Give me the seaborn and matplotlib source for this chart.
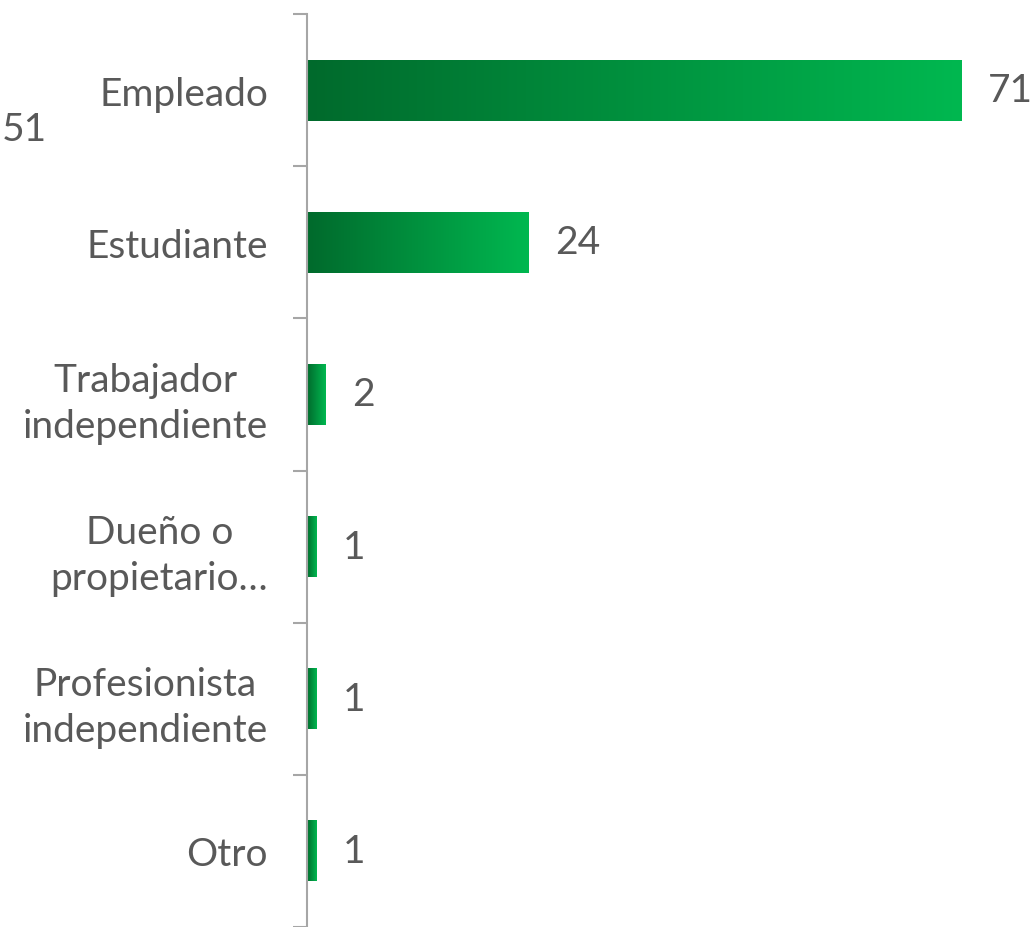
import numpy as np
import pandas as pd
import matplotlib
matplotlib.use("Agg")
import matplotlib.pyplot as plt
import seaborn as sns
from matplotlib.colors import LinearSegmentedColormap

# data
categories = ["Empleado", "Estudiante", "Trabajador\nindependiente",
              "Dueño o\npropietario…", "Profesionista\nindependiente", "Otro"]
values = [71, 24, 2, 1, 1, 1]
stray_label = "51"

df = pd.DataFrame({"categoria": categories, "valor": values})

sns.set_theme(style="white")
plt.rcParams["font.family"] = ["Lato", "DejaVu Sans"]
text_color = "#595959"
axis_color = "#A6A6A6"
fs = 28

fig = plt.figure(figsize=(10.33, 9.28), dpi=100)
ax = fig.add_axes([307 / 1033, 0, 1 - 307 / 1033, 913 / 928])

sns.barplot(data=df, x="valor", y="categoria", orient="h", width=0.4,
            color="#00A846", ax=ax)

# gradient fill for each bar, dark on the left, light on the right
cmap = LinearSegmentedColormap.from_list("verde", ["#006A2C", "#00B850"])
grad = np.linspace(0, 1, 256).reshape(1, -1)
for patch in ax.patches:
    x0, y0 = patch.get_x(), patch.get_y()
    w, h = patch.get_width(), patch.get_height()
    im = ax.imshow(grad, cmap=cmap, aspect="auto", extent=[x0, x0 + w, y0 + h, y0],
                   zorder=patch.get_zorder() + 0.1)
    im.set_clip_path(patch)

ax.set_xlim(0, 78.7)
ax.set_ylim(len(categories) - 0.5, -0.5)

# value labels
for i, v in enumerate(values):
    ax.annotate(str(v), xy=(v, i), xytext=(19, 0), textcoords="offset points",
                ha="left", va="center", fontsize=fs, color=text_color)

# category ticks at boundaries like the original
ax.set_yticks(np.arange(len(categories)))
ax.set_yticklabels(categories, fontsize=fs, color=text_color,
                   multialignment="center", linespacing=1.35)
ax.tick_params(axis="y", which="major", length=0, pad=28)
ax.set_yticks(np.arange(len(categories) + 1) - 0.5, minor=True)
ax.tick_params(axis="y", which="minor", left=True, length=10, width=1.5,
               color=axis_color, direction="out")
ax.set_xticks([])
ax.set_xlabel("")
ax.set_ylabel("")

for side in ["top", "right", "bottom"]:
    ax.spines[side].set_visible(False)
ax.spines["left"].set_color(axis_color)
ax.spines["left"].set_linewidth(1.5)

fig.text(2 / 1033, 1 - 130 / 928, stray_label, fontsize=fs, color=text_color,
         ha="left", va="center")

fig.savefig("out.png", dpi=100)
